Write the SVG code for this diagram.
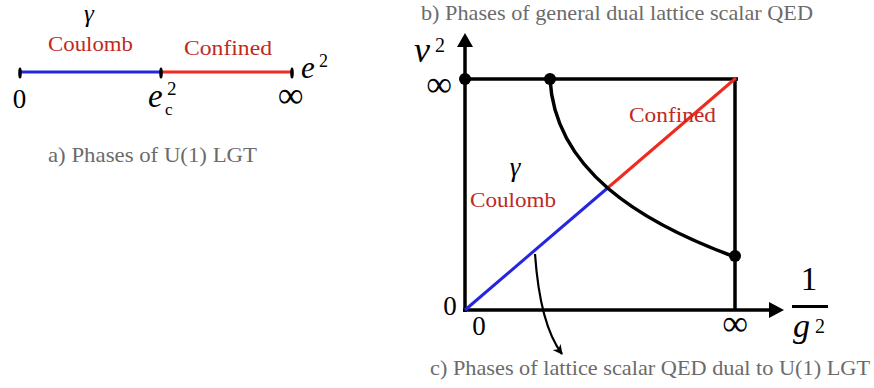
<svg xmlns="http://www.w3.org/2000/svg" width="874" height="388" viewBox="0 0 874 388">
<defs>
<style>
.cap{font-family:"Liberation Serif","DejaVu Serif",serif;font-size:22px;fill:#6b6b6b}
.math{font-family:"Liberation Serif","DejaVu Serif",serif;fill:#000}
.it{font-style:italic}
.phase{font-family:"Liberation Serif","DejaVu Serif",serif;font-size:20px;fill:#c0291f}
.ax{stroke:#000;stroke-width:3.5;fill:none}
.blue{stroke:#2626e0;stroke-width:3;fill:none}
.red{stroke:#f02a1e;stroke-width:3;fill:none}
</style>
<marker id="ah2" viewBox="0 0 10 10" refX="9" refY="5" markerWidth="5" markerHeight="4.5" orient="auto" markerUnits="strokeWidth">
<path d="M0,0 L10,5 L0,10 L3,5 Z" fill="#000"/>
</marker>
</defs>
<rect width="874" height="388" fill="#fff"/>

<g id="panel-a">
<line class="blue" x1="20" y1="72" x2="161" y2="72"/>
<line class="red" x1="161" y1="72" x2="292" y2="72"/>
<g fill="#000">
<ellipse cx="20" cy="73" rx="1.8" ry="5.5"/>
<ellipse cx="161" cy="73" rx="1.8" ry="5.5"/>
<ellipse cx="292" cy="73" rx="1.8" ry="5.5"/>
</g>
<text class="math it" x="89" y="22" font-size="25" text-anchor="middle">γ</text>
<text class="phase" x="48" y="51" textLength="85" lengthAdjust="spacingAndGlyphs">Coulomb</text>
<text class="phase" x="184" y="55" textLength="88" lengthAdjust="spacingAndGlyphs">Confined</text>
<text class="math" x="19.5" y="108" font-size="27" text-anchor="middle">0</text>
<text class="math it" x="148" y="107" font-size="33">e</text>
<text class="math" x="165" y="115" font-size="17">c</text>
<text class="math" x="167" y="95" font-size="19">2</text>
<text class="math" x="290.5" y="107" font-size="36" text-anchor="middle">∞</text>
<text class="math it" x="301" y="78" font-size="31">e</text>
<text class="math" x="319" y="67" font-size="18">2</text>
<text class="cap" x="48" y="162" textLength="209" lengthAdjust="spacingAndGlyphs">a) Phases of U(1) LGT</text>
</g>

<g id="panel-b">
<text class="cap" x="421" y="20" textLength="392" lengthAdjust="spacingAndGlyphs">b) Phases of general dual lattice scalar QED</text>
<line class="ax" x1="465" y1="312" x2="465" y2="46"/>
<path d="M465,33 L457,47 L473,47 Z" fill="#000"/>
<line class="ax" x1="463" y1="310" x2="769" y2="310"/>
<path d="M784,310 L769,302 L769,318 Z" fill="#000"/>
<line class="ax" x1="465" y1="79" x2="738" y2="79"/>
<line class="ax" x1="735" y1="79" x2="735" y2="310"/>
<line class="blue" x1="465" y1="310" x2="607" y2="188.5"/>
<line class="red" x1="607" y1="188.5" x2="736" y2="78"/>
<path class="ax" d="M550,79 C555,170 640,222 735,257"/>
<g fill="#000">
<circle cx="465" cy="79" r="6"/>
<circle cx="550" cy="79" r="6"/>
<circle cx="735" cy="256" r="6"/>
</g>
<text class="math it" x="515" y="176" font-size="27" text-anchor="middle">γ</text>
<text class="phase" x="470" y="207" textLength="86" lengthAdjust="spacingAndGlyphs">Coulomb</text>
<text class="phase" x="629" y="122" textLength="87" lengthAdjust="spacingAndGlyphs">Confined</text>
<text class="math it" x="414" y="62" font-size="36">v</text>
<text class="math" x="435" y="52" font-size="20">2</text>
<text class="math" x="439" y="96" font-size="36" text-anchor="middle">∞</text>
<text class="math" x="450" y="315" font-size="27" text-anchor="middle">0</text>
<text class="math" x="479" y="335" font-size="27" text-anchor="middle">0</text>
<text class="math" x="735" y="335" font-size="36" text-anchor="middle">∞</text>
<text class="math" x="809" y="290" font-size="33" text-anchor="middle">1</text>
<line x1="792" y1="306.5" x2="828" y2="306.5" stroke="#000" stroke-width="3"/>
<text class="math it" x="793" y="337" font-size="34">g</text>
<text class="math" x="815" y="333" font-size="20">2</text>
</g>

<g id="connectors">
<path d="M535,254 Q540,325 562,354" fill="none" stroke="#000" stroke-width="2.2" marker-end="url(#ah2)"/>
</g>

<g id="panel-c">
<text class="cap" x="430" y="375" textLength="440" lengthAdjust="spacingAndGlyphs">c) Phases of lattice scalar QED dual to U(1) LGT</text>
</g>
</svg>
